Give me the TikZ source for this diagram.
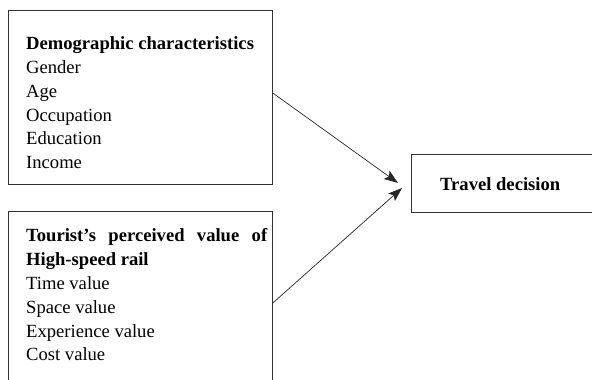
\documentclass[tikz,border=0pt]{standalone}
\usepackage{fontspec}
\setmainfont{Liberation Serif}
\usetikzlibrary{arrows.meta}
\tikzset{
  boxframe/.style={draw=black!80, line width=0.8pt, anchor=north west, inner sep=0pt},
  boxtext/.style={anchor=north west, inner sep=0pt, align=left, font=\fontsize{18.6}{23.8}\selectfont},
  link/.style={draw=black!85, line width=0.7pt, -{Stealth[length=14pt,width=10pt,inset=3pt]}}
}
\begin{document}
\begin{tikzpicture}[x=1pt,y=-1pt]
\useasboundingbox (0,0) rectangle (592,380);
\clip (0,0) rectangle (592,380);
\node[boxframe, minimum width=264pt, minimum height=174pt] (demo) at (8,10) {};
\node[boxframe, minimum width=264pt, minimum height=200pt] (value) at (8,210.7) {};
\node[boxframe, minimum width=200pt, minimum height=58pt] (travel) at (411,154) {};
\node[boxtext] (demotext) at (26,36.5) {\textbf{Demographic characteristics}\\Gender\\Age\\Occupation\\Education\\Income};
\node[boxtext] (valuetext) at (26,228.5) {\makebox[241pt][s]{\bfseries Tourist’s perceived value of}\\\textbf{High-speed rail}\\Time value\\Space value\\Experience value\\Cost value};
\node[anchor=base west, inner sep=0pt, font=\fontsize{18.6}{22}\selectfont\bfseries] (traveltext) at (440,190.5) {Travel decision};
\coordinate (s1) at (demo.east |- 0,93);
\coordinate (s2) at (value.east |- 0,303);
\coordinate (t1) at (398,183);
\coordinate (t2) at (402,188);
\draw[link] (s1) -- (t1);
\draw[link] (s2) -- (t2);
\end{tikzpicture}
\end{document}
